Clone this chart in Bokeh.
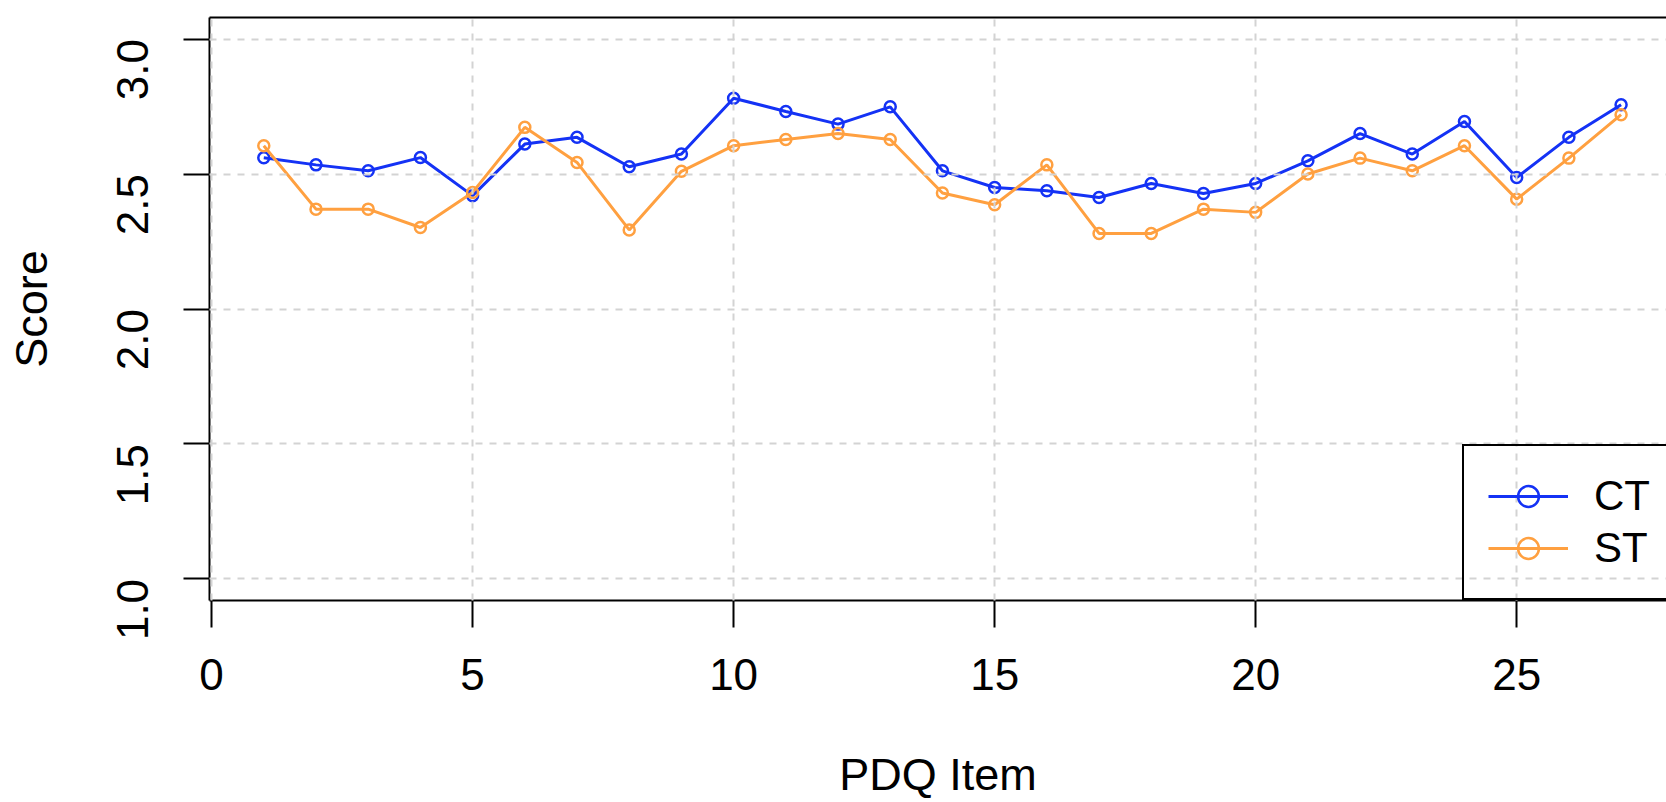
import math
from bokeh.plotting import figure
from bokeh.models import Range1d, FixedTicker, LinearAxis, Legend, LegendItem
from bokeh.embed import file_html
from bokeh.resources import INLINE

# ---- data ----
pdq_items = list(range(1, 28))
ct_scores = [2.560, 2.534, 2.512, 2.561, 2.420, 2.611, 2.636, 2.527, 2.574, 2.781,
             2.732, 2.685, 2.749, 2.512, 2.450, 2.438, 2.413, 2.465, 2.428, 2.465,
             2.549, 2.650, 2.574, 2.695, 2.487, 2.636, 2.757]
st_scores = [2.605, 2.370, 2.370, 2.302, 2.432, 2.673, 2.543, 2.293, 2.510, 2.605,
             2.628, 2.650, 2.628, 2.430, 2.386, 2.534, 2.280, 2.280, 2.370, 2.358,
             2.500, 2.559, 2.512, 2.605, 2.407, 2.559, 2.720]
series_names = ["CT", "ST"]
x_ticks = [0, 5, 10, 15, 20, 25]
y_ticks = [1.0, 1.5, 2.0, 2.5, 3.0]
y_tick_labels = ["1.0", "1.5", "2.0", "2.5", "3.0"]
x_title = "PDQ Item"
y_title = "Score"

CT_COLOR = "#1432F5"
ST_COLOR = "#FFA040"
FONT = "Liberation Sans"

p = figure(width=1666, height=802,
           x_range=Range1d(-0.04, 27.87), y_range=Range1d(0.92, 3.08),
           output_backend="svg", toolbar_location=None,
           min_border_left=209, min_border_right=0,
           min_border_top=17, min_border_bottom=202,
           x_axis_label=x_title, y_axis_label=y_title)
p.background_fill_color = "white"
p.border_fill_color = "white"
p.outline_line_color = None

# axes
xa = p.below[0]
ya = p.left[0]
xa.ticker = FixedTicker(ticks=x_ticks)
ya.ticker = FixedTicker(ticks=y_ticks)
ya.major_label_overrides = {t: l for t, l in zip(y_ticks, y_tick_labels)}
ya.major_label_orientation = math.pi / 2
for ax in (xa, ya):
    ax.axis_line_color = "black"
    ax.axis_line_width = 2
    ax.major_tick_line_color = "black"
    ax.major_tick_line_width = 2
    ax.major_tick_in = 0
    ax.minor_tick_in = 0
    ax.minor_tick_out = 0
    ax.major_label_text_font = FONT
    ax.major_label_text_font_size = "44px"
    ax.major_label_text_color = "black"
    ax.axis_label_text_font = FONT
    ax.axis_label_text_font_size = "45px"
    ax.axis_label_text_font_style = "normal"
    ax.axis_label_text_color = "black"
xa.major_tick_out = 27
xa.major_label_standoff = 31
xa.axis_label_standoff = 56
ya.major_tick_out = 26
ya.major_label_standoff = 51
ya.axis_label_standoff = 42

# top border of the box
top = LinearAxis(ticker=FixedTicker(ticks=[]), axis_line_width=2, axis_line_color="black",
                 major_tick_out=0, major_tick_in=0, minor_tick_out=0, minor_tick_in=0,
                 major_label_text_font_size="0px")
p.add_layout(top, "above")

# grid (drawn over the data as in the reference)
p.xgrid.ticker = FixedTicker(ticks=x_ticks)
p.ygrid.ticker = FixedTicker(ticks=y_ticks)
for g in (p.xgrid, p.ygrid):
    g.grid_line_color = "#D3D3D3"
    g.grid_line_width = 2
    g.grid_line_dash = "7 7"
    g.level = "overlay"

# data
ct_line = p.line(pdq_items, ct_scores, line_color=CT_COLOR, line_width=3)
ct_pts = p.scatter(pdq_items, ct_scores, marker="circle", size=11, fill_color=None,
                   line_color=CT_COLOR, line_width=2.5)
st_line = p.line(pdq_items, st_scores, line_color=ST_COLOR, line_width=3)
st_pts = p.scatter(pdq_items, st_scores, marker="circle", size=11, fill_color=None,
                   line_color=ST_COLOR, line_width=2.5)

legend = Legend(items=[LegendItem(label=series_names[0], renderers=[ct_line, ct_pts]),
                       LegendItem(label=series_names[1], renderers=[st_line, st_pts])],
                location=(1253, 0), orientation="vertical",
                border_line_color="black", border_line_width=2, border_line_alpha=1.0,
                background_fill_alpha=0.0,
                padding=24, spacing=0, margin=0,
                glyph_width=80, glyph_height=52, label_height=52, label_width=140,
                label_standoff=26, label_text_font=FONT,
                label_text_font_size="42px", label_text_color="black")
p.add_layout(legend)

open("out.html", "w").write(file_html(p, INLINE))
